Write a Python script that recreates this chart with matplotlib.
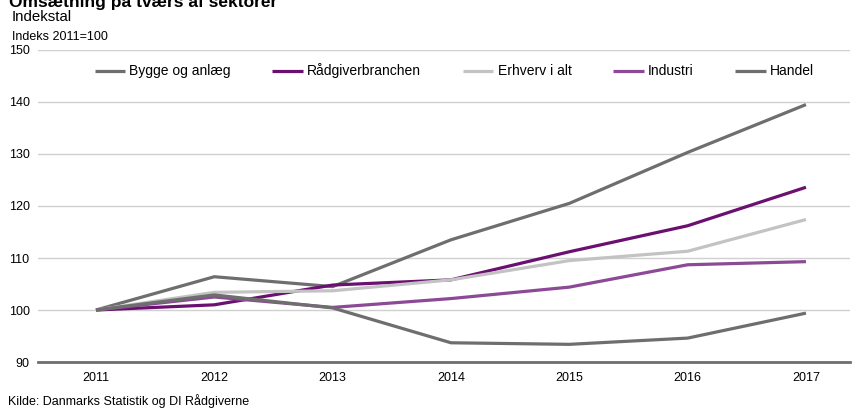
import numpy as np
import matplotlib
matplotlib.use("Agg")
from matplotlib import pyplot as plt

plt.rcParams['font.family'] = ['Liberation Sans', 'DejaVu Sans']

years = [2011, 2012, 2013, 2014, 2015, 2016, 2017]
bygge = [100, 106.4, 104.5, 113.5, 120.5, 130.3, 139.5]
raadgiver = [100, 101.0, 104.8, 105.8, 111.2, 116.2, 123.6]
erhverv = [100, 103.4, 103.7, 105.8, 109.5, 111.3, 117.4]
industri = [100, 102.5, 100.5, 102.2, 104.4, 108.7, 109.3]
handel = [100, 102.9, 100.4, 93.7, 93.4, 94.6, 99.4]

names = ['Bygge og anlæg', 'Rådgiverbranchen', 'Erhverv i alt', 'Industri', 'Handel']
colors = ['#6e6e6e', '#6b1071', '#c3c3c3', '#8c4a96', '#6e6e6e']
series = [bygge, raadgiver, erhverv, industri, handel]

fig = plt.figure(figsize=(8.54, 4.08), dpi=100)
ax = fig.add_axes([0.0445, 0.1127, 0.9505, 0.7648])

# lines
for s, n, c in zip(series, names, colors):
    ax.plot(years, s, color=c, lw=2.3, label=n, solid_capstyle='butt')

ax.set_ylim(90, 150)
ax.set_xlim(2010.51, 2017.37)
ax.set_yticks(range(90, 151, 10))
ax.set_xticks(years)
ax.yaxis.grid(True, color='#d0d0d0', lw=1)
ax.set_axisbelow(True)
for sp in ['top', 'right', 'left']:
    ax.spines[sp].set_visible(False)
ax.spines['bottom'].set_color('#6e6e6e')
ax.spines['bottom'].set_linewidth(2)
ax.tick_params(axis='both', length=0, labelsize=9, colors='black')
ax.tick_params(axis='x', pad=7)
ax.tick_params(axis='y', pad=6)

fig.legend(loc='center', bbox_to_anchor=(0.532, 0.826), ncol=5, frameon=False,
           fontsize=10, handlelength=2.2, handletextpad=0.3, columnspacing=3.0)

# headings
fig.text(0.01, 0.983, 'Omsætning på tværs af sektorer', fontsize=12.5, fontweight='bold',
         va='baseline', ha='left')
fig.text(0.014, 0.9485, 'Indekstal', fontsize=10.8, va='baseline', ha='left')
fig.text(0.014, 0.903, 'Indeks 2011=100', fontsize=9, va='baseline', ha='left')
fig.text(0.009, 0.007, 'Kilde: Danmarks Statistik og DI Rådgiverne', fontsize=9,
         va='baseline', ha='left')

fig.savefig('out.png', dpi=100)
